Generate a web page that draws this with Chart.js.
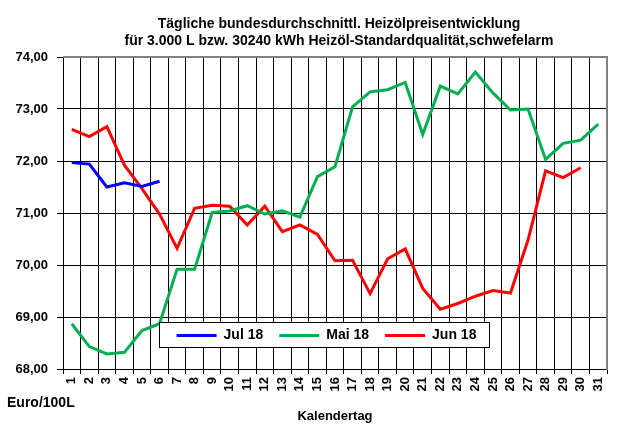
<!DOCTYPE html>
<html>
<head>
<meta charset="utf-8">
<script src="https://cdn.jsdelivr.net/npm/chart.js@4.4.1/dist/chart.umd.min.js"></script>
<style>
  html, body { margin: 0; padding: 0; background: #fff; }
</style>
</head>
<body>
<canvas id="myChart" width="633" height="430"></canvas>
<script>
let days = ['1', '2', '3', '4', '5', '6', '7', '8', '9', '10', '11', '12', '13', '14', '15', '16',
  '17', '18', '19', '20', '21', '22', '23', '24', '25', '26', '27', '28', '29', '30', '31'];
let jul18 = [71.97, 71.94, 71.50, 71.58, 71.51, 71.61];
let mai18 = [68.87, 68.43, 68.29, 68.32, 68.74, 68.87, 69.92, 69.92, 71.01, 71.04, 71.14, 70.98, 71.04, 70.92, 71.70, 71.89,
  73.04, 73.33, 73.37, 73.51, 72.51, 73.44, 73.29, 73.71, 73.31, 72.98, 73.00, 72.03, 72.34, 72.40, 72.71];
let jun18 = [72.61, 72.47, 72.66, 71.92, 71.47, 70.98, 70.32, 71.09, 71.15, 71.13, 70.77, 71.13, 70.64, 70.77, 70.59, 70.08,
  70.09, 69.45, 70.12, 70.31, 69.55, 69.15, 69.26, 69.40, 69.51, 69.46, 70.48, 71.81, 71.68, 71.87];
let seriesLabels = ['Jul 18', 'Mai 18', 'Jun 18'];
let colorHex = ['#0000ff', '#00b050', '#ff0000'];
let titleLines = ['Tägliche bundesdurchschnittl. Heizölpreisentwicklung',
  'für 3.000 L bzw. 30240 kWh Heizöl-Standardqualität,schwefelarm'];

let fam = 'Arial, "Liberation Sans", sans-serif';

// legend sits inside the plot in a white framed box, title and unit drawn by hand
let frame = {
  id: 'frame',
  afterLayout: (chart) => {
    let lg = chart.legend;
    let h = lg.height;
    lg.left = 148;
    lg.right = 505;
    lg.top = 335.5 - 16 - 7;
    lg.bottom = lg.top + h;
  },
  afterDatasetsDraw: (chart) => {
    let c = chart.ctx;
    c.save();
    c.fillStyle = '#fff';
    c.strokeStyle = '#000';
    c.lineWidth = 1;
    c.fillRect(159.5, 322.5, 330, 25);
    c.strokeRect(159.5, 322.5, 330, 25);
    c.restore();
    chart.legend.draw();
  },
  afterDraw: (chart) => {
    let c = chart.ctx;
    let a = chart.chartArea;
    c.save();
    c.strokeStyle = '#808080';
    c.lineWidth = 2;
    c.beginPath();
    c.moveTo(a.left, a.top);
    c.lineTo(a.right, a.top);
    c.lineTo(a.right, a.bottom + 1);
    c.stroke();
    c.fillStyle = '#000';
    c.font = 'bold 14px ' + fam;
    c.textAlign = 'center';
    c.textBaseline = 'alphabetic';
    c.fillText(titleLines[0], 339, 27.5);
    c.fillText(titleLines[1], 339, 45);
    c.textAlign = 'left';
    c.font = 'bold 14px ' + fam;
    c.fillText('Euro/100L', 7, 406.5);
    c.restore();
  }
};

let ctx = document.getElementById('myChart').getContext('2d');
let myChart = new Chart(ctx, {
  type: 'line',
  data: {
    labels: days,
    datasets: [
      { label: seriesLabels[0], data: jul18, borderColor: colorHex[0], backgroundColor: colorHex[0] },
      { label: seriesLabels[1], data: mai18, borderColor: colorHex[1], backgroundColor: colorHex[1] },
      { label: seriesLabels[2], data: jun18, borderColor: colorHex[2], backgroundColor: colorHex[2] }
    ]
  },
  options: {
    responsive: false,
    animation: false,
    devicePixelRatio: 1,
    layout: {
      padding: { top: 17, right: 26, left: 0, bottom: 0 }
    },
    elements: {
      line: { borderWidth: 3, tension: 0, fill: false },
      point: { radius: 0, hoverRadius: 0 }
    },
    plugins: {
      title: { display: false },
      tooltip: { enabled: false },
      legend: {
        position: 'top',
        labels: {
          boxWidth: 40,
          boxHeight: 0,
          padding: 16,
          color: '#000',
          font: { family: fam, size: 14, weight: 'bold' }
        }
      }
    },
    scales: {
      x: {
        offset: true,
        grid: { offset: true, color: '#000', lineWidth: 1, tickLength: 5 },
        border: { color: '#000', width: 1 },
        ticks: {
          autoSkip: false,
          maxRotation: 90,
          minRotation: 90,
          padding: 3,
          color: '#000',
          font: { family: fam, size: 13, weight: 'bold' }
        },
        title: {
          display: true,
          text: 'Kalendertag',
          color: '#000',
          font: { family: fam, size: 13, weight: 'bold' },
          padding: { top: 0, bottom: 6 }
        },
        afterFit: (scale) => { scale.height = 61; }
      },
      y: {
        min: 68,
        max: 74,
        grid: { color: '#000', lineWidth: 1, tickLength: 6 },
        border: { color: '#000', width: 1 },
        ticks: {
          stepSize: 1,
          padding: 9,
          color: '#000',
          font: { family: fam, size: 13, weight: 'bold' },
          callback: (value) => value.toFixed(2).replace('.', ',')
        },
        afterFit: (scale) => { scale.width = 63; }
      }
    }
  },
  plugins: [frame]
});
</script>
</body>
</html>
